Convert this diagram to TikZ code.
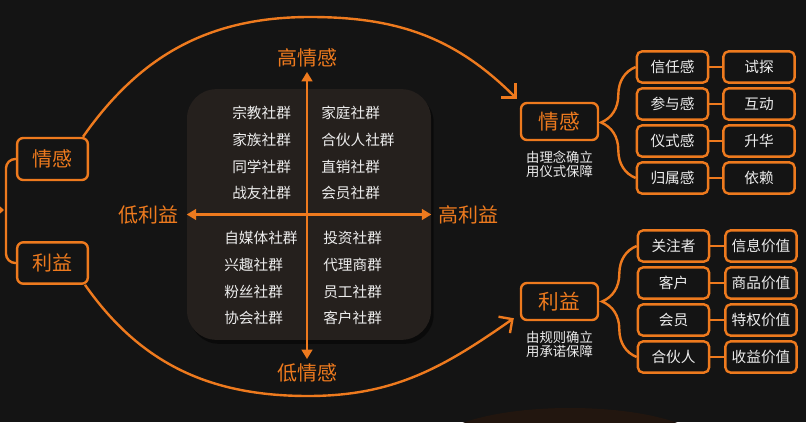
\documentclass[tikz,border=0pt]{standalone}
\usepackage{fontspec}
\setmainfont{Noto Sans CJK SC}
\usetikzlibrary{arrows.meta, positioning, decorations.pathreplacing, shadows}

\definecolor{bgdark}{HTML}{141414}
\definecolor{panefill}{HTML}{25201D}
\definecolor{accent}{HTML}{EE7A1E}
\definecolor{paletext}{HTML}{EDEDED}
\definecolor{glowbrown}{HTML}{22160F}

\begin{document}
\begin{tikzpicture}[x=0.75pt,y=0.75pt,
    axislabel/.style={text=accent,font=\fontsize{15}{18}\selectfont},
    groupname/.style={text=paletext,font=\fontsize{11}{13}\selectfont,anchor=west,inner sep=0pt},
    bigbox/.style={draw=accent,line width=1.8pt,rounded corners=4.5pt,fill=bgdark,text=accent,font=\fontsize{15}{18}\selectfont,inner sep=0pt},
    subbox/.style={draw=accent,line width=1.8pt,rounded corners=4pt,fill=bgdark,text=paletext,font=\fontsize{11}{13}\selectfont,minimum width=53.5pt,minimum height=23.5pt,inner sep=0pt},
    note/.style={text=paletext,font=\fontsize{10}{10.5}\selectfont,align=center,inner sep=0pt},
    orangeline/.style={draw=accent,line width=1.8pt},
    sweep/.style={orangeline,-{Straight Barb[length=7.5pt,width=15pt]}},
    axisline/.style={draw=accent,line width=1.6pt,{Triangle[length=7pt,width=8pt]}-{Triangle[length=7pt,width=8pt]}},
    curly/.style={orangeline,decorate,decoration={brace,amplitude=26pt}}]
\fill[bgdark] (0,0) rectangle (806,422);
\useasboundingbox (0,0) rectangle (806,422);
\fill[glowbrown] (570,-24) ellipse [x radius=135,y radius=38];

%
\node[fill=panefill,rounded corners=22pt,minimum width=183pt,minimum height=188pt,
      drop shadow={shadow xshift=2pt,shadow yshift=-3pt,fill=black,opacity=0.45}] (pane) at (309,207.5) {};
\node[axislabel] (hiE) at (307,364) {高情感};
\node[axislabel] (loE) at (307,49) {低情感};
\node[axislabel] (loB) at (148,207) {低利益};
\node[axislabel] (hiB) at (468,207) {高利益};
\draw[axisline] (loE) -- (hiE);
\draw[axisline] (pane.west) -- (pane.east);

%
\node[groupname] (religion) at (232,309) {宗教社群};
\node[groupname] (clan) at (232,282) {家族社群};
\node[groupname] (alumni) at (232,255) {同学社群};
\node[groupname] (comrade) at (232,229) {战友社群};
\node[groupname] (family) at (321,309) {家庭社群};
\node[groupname] (partners) at (321,282) {合伙人社群};
\node[groupname] (directsale) at (321,255) {直销社群};
\node[groupname] (members) at (321,229) {会员社群};
\node[groupname] (selfmedia) at (224,184) {自媒体社群};
\node[groupname] (hobby) at (224,157) {兴趣社群};
\node[groupname] (fans) at (224,130) {粉丝社群};
\node[groupname] (assoc) at (224,104) {协会社群};
\node[groupname] (invest) at (323,184) {投资社群};
\node[groupname] (agents) at (323,157) {代理商群};
\node[groupname] (staff) at (323,130) {员工社群};
\node[groupname] (clients) at (323,104) {客户社群};

%
\node[bigbox,minimum width=53pt,minimum height=31.5pt] (emoL) at (52.5,263) {情感};
\node[bigbox,minimum width=53pt,minimum height=31pt] (gainL) at (52.5,159) {利益};
\coordinate (fork) at (6,212);
\coordinate (feed) at (-14,212);
\draw[orangeline,rounded corners=7pt] (emoL.west) -| (fork) |- (gainL.west);
\draw[draw=accent,line width=1.6pt,-{Triangle[length=4pt,width=7pt]}] (feed) -- ([xshift=-1.5pt]fork);

%
\node[bigbox,minimum width=57.75pt,minimum height=27.75pt,font=\fontsize{15.5}{18}\selectfont] (emoR) at (559.5,300.5) {情感};
\node[note,below=7pt of emoR] (emoNote) {由理念确立\\用仪式保障};
\node[bigbox,minimum width=57.75pt,minimum height=27.75pt,font=\fontsize{15.5}{18}\selectfont] (gainR) at (559.5,120.5) {利益};
\node[note,below=7pt of gainR] (gainNote) {由规则确立\\用承诺保障};

%
\coordinate (crest) at (310,405);
\coordinate (trough) at (308,26);
\draw[sweep] ([xshift=-4.5pt]emoL.north east) to[out=55,in=180] (crest) to[out=0,in=135] ([shift={(-3,3)}]emoR.north west);
\draw[sweep] ([xshift=-3pt]gainL.south east) to[out=-55,in=180] (trough) to[out=0,in=-145] ([shift={(-6,3)}]gainR.south west);

%
\node[subbox] (trust) at (672.5,355) {信任感};
\node[subbox] (join) at (672.5,318) {参与感};
\node[subbox] (rite) at (672.5,281) {仪式感};
\node[subbox] (belong) at (672.5,244) {归属感};
\node[subbox] (probe) at (759,355) {试探};
\node[subbox] (interact) at (759,318) {互动};
\node[subbox] (elevate) at (759,281) {升华};
\node[subbox] (rely) at (759,244) {依赖};
\draw[orangeline] (trust) -- (probe);
\draw[orangeline] (join) -- (interact);
\draw[orangeline] (rite) -- (elevate);
\draw[orangeline] (belong) -- (rely);
\draw[curly] (belong.west) -- (trust.west);

%
\node[subbox] (follower) at (673.5,176) {关注者};
\node[subbox] (client) at (673.5,139) {客户};
\node[subbox] (member) at (673.5,102) {会员};
\node[subbox] (partner) at (673.5,65) {合伙人};
\node[subbox] (infoV) at (761,176) {信息价值};
\node[subbox] (goodsV) at (761,139) {商品价值};
\node[subbox] (rightV) at (761,102) {特权价值};
\node[subbox] (profitV) at (761,65) {收益价值};
\draw[orangeline] (follower) -- (infoV);
\draw[orangeline] (client) -- (goodsV);
\draw[orangeline] (member) -- (rightV);
\draw[orangeline] (partner) -- (profitV);
\draw[curly] (partner.west) -- (follower.west);
\end{tikzpicture}
\end{document}
